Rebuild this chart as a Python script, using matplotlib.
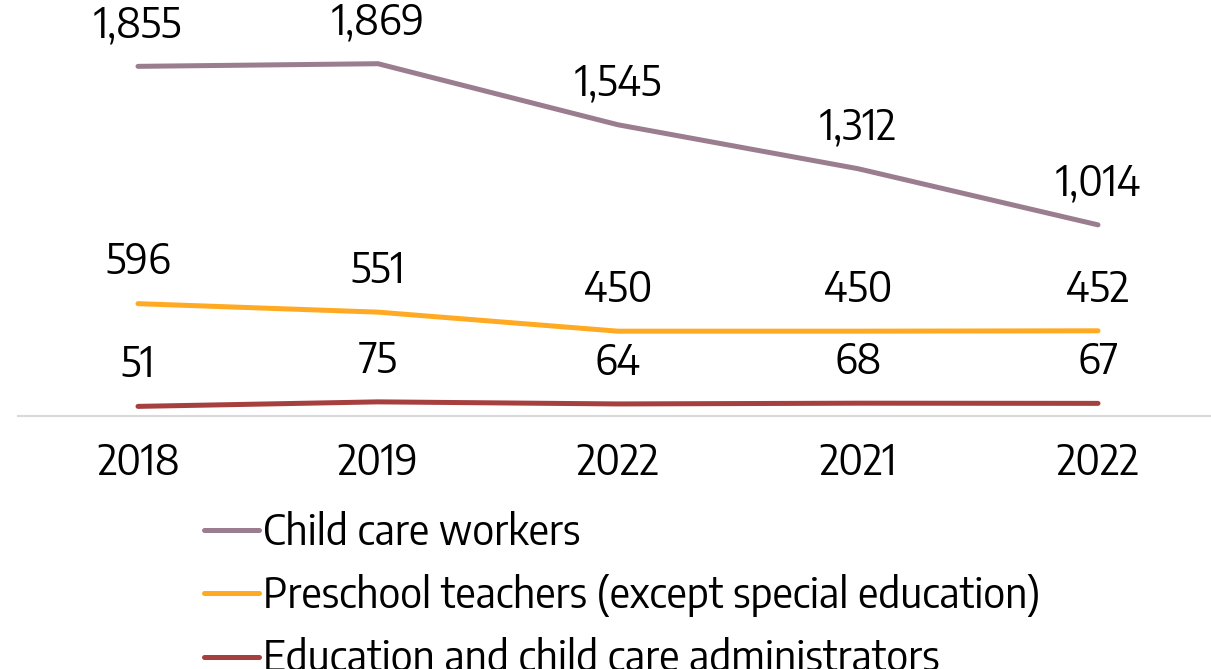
import matplotlib.pyplot as plt
from matplotlib.lines import Line2D

years = ['2018', '2019', '2022', '2021', '2022']
child_care = [1855, 1869, 1545, 1312, 1014]
preschool = [596, 551, 450, 450, 452]
admins = [51, 75, 64, 68, 67]

series_names = ['Child care workers',
                'Preschool teachers (except special education)',
                'Education and child care administrators']
colors = ['#9A7E8F', '#FFAA22', '#A5403E']

plt.rcParams['font.family'] = ['Encode Sans Semi Condensed', 'Liberation Sans', 'DejaVu Sans']
FS = 30.3

W, H = 1211, 669
fig = plt.figure(figsize=(W / 100, H / 100), dpi=100)
# plot area: x from 18 to 1217 px, y=0 at 416 px
ax = fig.add_axes([18 / W, (H - 416) / H, 1200 / W, 416 / H])

x = range(len(years))
for vals, c in zip([child_care, preschool, admins], colors):
    ax.plot(x, vals, color=c, lw=3.6, solid_capstyle='round')
    for xi, v in zip(x, vals):
        ax.annotate(f'{v:,}', (xi, v), xytext=(0, 30), textcoords='offset points',
                    ha='center', va='center', fontsize=FS)

ax.set_xlim(-0.5, 4.5)
ax.set_ylim(0, 2207)
ax.set_yticks([])
ax.set_xticks(list(x))
ax.set_xticklabels(years, fontsize=FS)
ax.tick_params(axis='x', length=0, pad=18)
for s in ['top', 'left', 'right']:
    ax.spines[s].set_visible(False)
ax.spines['bottom'].set_color('#D9D9D9')
ax.spines['bottom'].set_linewidth(1.5)

handles = [Line2D([], [], color=c, lw=3.6, solid_capstyle='round') for c in colors]
fig.legend(handles, series_names, loc='upper left', bbox_to_anchor=(204 / W, (H - 511) / H),
           frameon=False, fontsize=FS, handlelength=1.3, handletextpad=0.1,
           labelspacing=0.48, borderpad=0, borderaxespad=0)

fig.savefig('out.png', dpi=100)
